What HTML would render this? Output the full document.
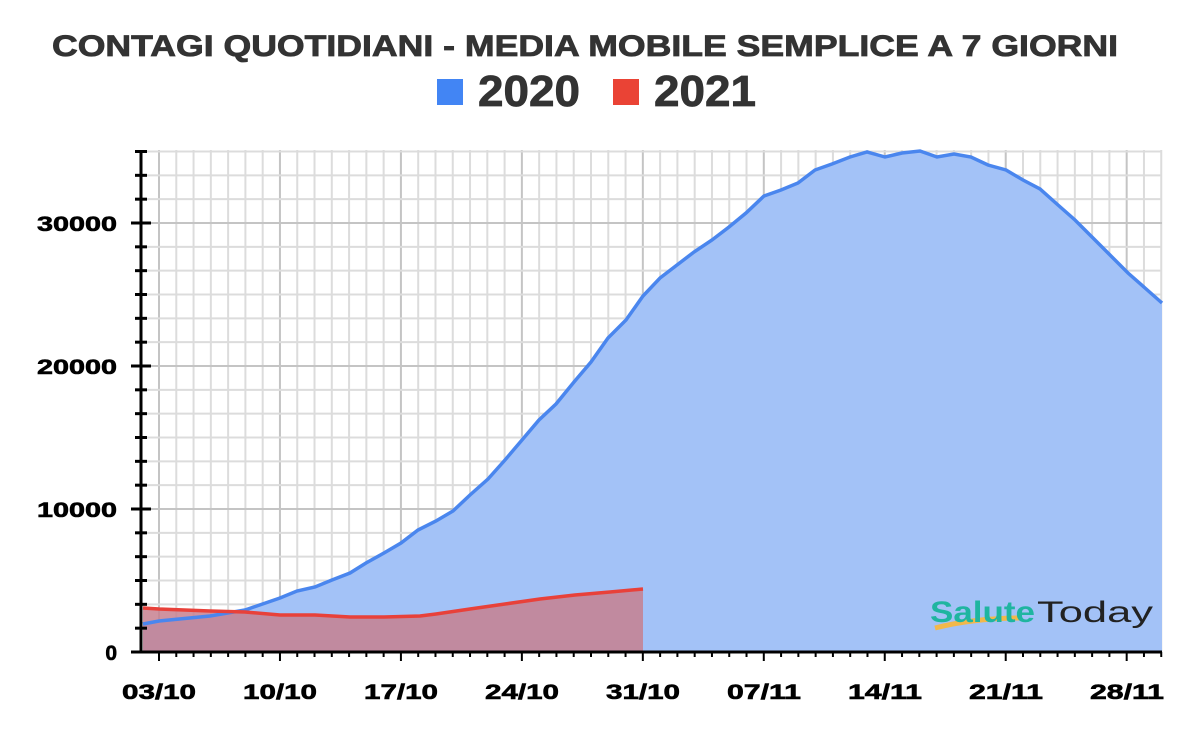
<!DOCTYPE html>
<html><head><style>
body{margin:0;background:#fff;}
svg text{font-family:"Liberation Sans",Arial,sans-serif;font-weight:bold;}
</style></head><body>
<svg width="1200" height="742" viewBox="0 0 1200 742" xmlns="http://www.w3.org/2000/svg">
<rect width="1200" height="742" fill="#fff"/>
<text x="52" y="56" font-size="30" fill="#333" textLength="1066" lengthAdjust="spacingAndGlyphs" stroke="#333" stroke-width="0.8">CONTAGI QUOTIDIANI - MEDIA MOBILE SEMPLICE A 7 GIORNI</text>
<rect x="437" y="79" width="26" height="26" fill="#4285f4"/>
<text x="478" y="106" font-size="44" fill="#333" textLength="102" lengthAdjust="spacingAndGlyphs" stroke="#333" stroke-width="0.8">2020</text>
<rect x="613" y="79" width="26" height="26" fill="#ea4335"/>
<text x="654" y="106" font-size="44" fill="#333" textLength="102" lengthAdjust="spacingAndGlyphs" stroke="#333" stroke-width="0.8">2021</text>
<g id="grid" stroke="#dcdcdc" stroke-width="2"></g>
<polygon id="blueA" fill="#a3c2f7" stroke="none"/>
<polygon id="redA" fill="#c7808f" fill-opacity="0.85" stroke="none"/>
<polyline id="blueL" fill="none" stroke="#4a86ee" stroke-width="3.5"/>
<polyline id="redL" fill="none" stroke="#e8413a" stroke-width="3.5"/>
<g id="axes" stroke="#000"></g>
<g id="labels" font-size="21" fill="#000" stroke="#000" stroke-width="0.6"></g>
<path d="M935 628 Q975 618 1022 618" stroke="#f2b84b" stroke-width="5" fill="none"/>
<text x="930" y="622" font-size="30" fill="#1fb5a0" textLength="105" lengthAdjust="spacingAndGlyphs">Salute</text>
<text x="1037" y="622" font-size="30" fill="#222" style="font-weight:normal" textLength="116" lengthAdjust="spacingAndGlyphs">Today</text>
</svg>
<script>
const ns="http://www.w3.org/2000/svg";
function el(p,t,a){const e=document.createElementNS(ns,t);for(const k in a)e.setAttribute(k,a[k]);p.appendChild(e);return e;}
const g=document.getElementById('grid'),ax=document.getElementById('axes'),lb=document.getElementById('labels');
const d=17.28;
for(let i=0;;i++){const x=159+(i-1)*d; if(x>1163)break; if(x<143)continue;
 const major=((i-1)%7===0);
 el(g,'line',{x1:x,y1:150,x2:x,y2:652,stroke:major?'#c4c4c4':'#dcdcdc'});
 el(ax,'line',{x1:x,y1:652,x2:x,y2:major?661:657,'stroke-width':2});}
for(let k=0;k<=21;k++){const y=652-k*143/6; if(y<148)break;
 const major=k%6===0;
 el(g,'line',{x1:143,y1:y,x2:1162,y2:y,stroke:major?'#c4c4c4':'#dcdcdc'});
 el(ax,'line',{x1:major?131:135,y1:y,x2:major?151:147,y2:y,'stroke-width':3});}
el(ax,'line',{x1:141,y1:150,x2:141,y2:653,'stroke-width':3});
el(ax,'line',{x1:141,y1:652,x2:1162,y2:652,'stroke-width':3});
[[0,652],[10000,509],[20000,366],[30000,223]].forEach(([v,y])=>{const a={x:117,y:y+8,'text-anchor':'end'};if(v){a.textLength=80;a.lengthAdjust='spacingAndGlyphs';}const t=el(lb,'text',a);t.textContent=v;});
['03/10','10/10','17/10','24/10','31/10','07/11','14/11','21/11','28/11'].forEach((s,i)=>{const t=el(lb,'text',{x:159+i*121-37,y:699,textLength:74,lengthAdjust:'spacingAndGlyphs'});t.textContent=s;});
const B=[[143,624],[159,621],[210,616],[245,610],[280,598],[297,591],[315,587],[332,580],[350,573],[366,563],[384,553],[401,543],[418,530],[436,521],[453,511],[470,495],[488,479],[505,460],[522,440],[539,420],[556,404],[574,382],[591,362],[608,338],[626,320],[643,296],[660,278],[677,265],[694,252],[712,240],[729,227],[746,213],[764,196],[781,190],[798,183],[815,170],[832,164],[850,157],[867,152],[885,157],[902,153],[920,151],[937,157],[954,154],[971,157],[988,165],[1006,170],[1023,180],[1040,189],[1058,205],[1075,220],[1092,237],[1110,255],[1128,273],[1145,288],[1162,303]];
const R=[[143,608],[159,609],[210,611],[245,612],[280,615],[315,615],[350,617],[384,617],[420,616],[436,614],[470,609],[505,604],[540,599],[575,595],[610,592],[643,589]];
const s=a=>a.map(p=>p.join(',')).join(' ');
document.getElementById('blueA').setAttribute('points',s(B)+' 1162,652 143,652');
document.getElementById('redA').setAttribute('points',s(R)+' 643,652 143,652');
document.getElementById('blueL').setAttribute('points',s(B));
document.getElementById('redL').setAttribute('points',s(R));
</script>
</body></html>
